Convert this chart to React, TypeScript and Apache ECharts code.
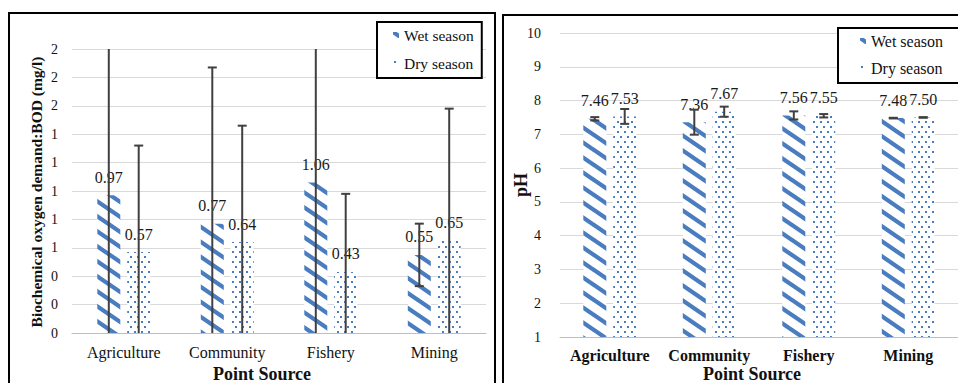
import React, { useEffect, useRef } from "react";
import * as echarts from "echarts";

const categories = ["Agriculture", "Community", "Fishery", "Mining"];
const seriesNames = ["Wet season", "Dry season"];

// Left chart: BOD (mg/l)
const bodWet = [0.97, 0.77, 1.06, 0.55];
const bodDry = [0.57, 0.64, 0.43, 0.65];
const bodWetErr = [1.1, 1.1, 1.12, 0.22];
const bodDryErr = [0.75, 0.82, 0.55, 0.93];
const bodTickLabels = ["0", "0", "0", "1", "1", "1", "1", "1", "2", "2", "2"];

// Right chart: pH
const phWet = [7.46, 7.36, 7.56, 7.48];
const phDry = [7.53, 7.67, 7.55, 7.5];
const phWetErr = [0.05, 0.37, 0.12, 0.01];
const phDryErr = [0.22, 0.15, 0.05, 0.01];
const phTickLabels = ["1", "2", "3", "4", "5", "6", "7", "8", "9", "10"];

const SERIF = "Liberation Serif";
const BLUE = "#4a7cc0";
const BAR_W = 23;
const BAR_GAP = 0.3;

function stripePattern() {
  const W = 22, H = 15;
  const c = document.createElement("canvas");
  c.width = W; c.height = H;
  const ctx = c.getContext("2d")!;
  ctx.fillStyle = "#ffffff";
  ctx.fillRect(0, 0, W, H);
  ctx.strokeStyle = BLUE;
  ctx.lineWidth = 4.2;
  ctx.beginPath();
  for (const dx of [-W, 0, W]) {
    for (const dy of [-H, 0, H]) {
      ctx.moveTo(dx, dy);
      ctx.lineTo(dx + W, dy + H);
    }
  }
  ctx.stroke();
  return { image: c.toDataURL(), repeat: "repeat", imageWidth: W, imageHeight: H };
}

function dotPattern() {
  const W = 7, H = 10;
  const c = document.createElement("canvas");
  c.width = W; c.height = H;
  const ctx = c.getContext("2d")!;
  ctx.fillStyle = "#ffffff";
  ctx.fillRect(0, 0, W, H);
  ctx.fillStyle = BLUE;
  ctx.fillRect(1, 1, 2, 2);
  ctx.fillRect(4, 6, 2, 2);
  return { image: c.toDataURL(), repeat: "repeat", imageWidth: W, imageHeight: H };
}

function errData(vals: number[], errs: number[], lo: number, hi: number) {
  return vals.map((v, i) => {
    const a = v - errs[i];
    const b = v + errs[i];
    return [i, Math.max(lo, a), Math.min(hi, b), a >= lo ? 1 : 0, b <= hi ? 1 : 0];
  });
}

function errSeries(name: string, axis: number, data: number[][], offset: number) {
  return {
    type: "custom",
    name,
    xAxisIndex: axis,
    yAxisIndex: axis,
    z: 5,
    silent: true,
    data,
    renderItem: (params: any, api: any) => {
      const idx = api.value(0);
      const p0 = api.coord([idx, api.value(1)]);
      const p1 = api.coord([idx, api.value(2)]);
      const x = p0[0] + offset;
      const style = { stroke: "#404040", lineWidth: 2 };
      const cap = 4.5;
      const children: any[] = [
        { type: "line", shape: { x1: x, y1: p0[1], x2: x, y2: p1[1] }, style },
      ];
      if (api.value(3)) children.push({ type: "line", shape: { x1: x - cap, y1: p0[1], x2: x + cap, y2: p0[1] }, style });
      if (api.value(4)) children.push({ type: "line", shape: { x1: x - cap, y1: p1[1], x2: x + cap, y2: p1[1] }, style });
      return { type: "group", children };
    },
  };
}

export default function App() {
  const ref = useRef<HTMLDivElement>(null);
  useEffect(() => {
    if (!ref.current) return;
    const chart = echarts.init(ref.current, null, { renderer: "svg" });
    const stripes = stripePattern();
    const dots = dotPattern();
    const off = (BAR_W + BAR_W * BAR_GAP) / 2;
    const labelCfg = {
      show: true,
      position: "top",
      distance: 10,
      fontFamily: SERIF,
      fontSize: 16,
      color: "#1a1a1a",
      formatter: (p: any) => Number(p.value).toFixed(2),
    };
    const barBase = { type: "bar", barWidth: BAR_W, barGap: BAR_GAP * 100 + "%", label: labelCfg };
    const legendBase = {
      orient: "vertical",
      backgroundColor: "#ffffff",
      borderColor: "#000000",
      borderWidth: 2,
      itemWidth: 6,
      itemHeight: 6,
      icon: "rect",
      selectedMode: false,
      data: seriesNames,
    };
    const txt = (text: string, x: number, y: number, size: number, rot = 0) => ({
      type: "text",
      x,
      y,
      rotation: rot,
      style: {
        text,
        fontFamily: SERIF,
        fontSize: size,
        fontWeight: "bold",
        fill: "#111",
        align: "center",
        textAlign: "center",
        verticalAlign: "middle",
        textVerticalAlign: "middle",
      },
    });
    chart.setOption({
      animation: false,
      backgroundColor: "#ffffff",
      textStyle: { fontFamily: SERIF },
      grid: [
        { left: 72, top: 49, width: 414, height: 284 },
        { left: 560, top: 33, width: 412, height: 304 },
      ],
      legend: [
        {
          ...legendBase,
          left: 377,
          top: 22,
          padding: [5, 8, 7, 16],
          itemGap: 12,
          textStyle: { fontFamily: SERIF, fontSize: 15.5, color: "#111" },
        },
        {
          ...legendBase,
          left: 838,
          top: 28,
          padding: [5, 70, 7, 22],
          itemGap: 11,
          textStyle: { fontFamily: SERIF, fontSize: 16, color: "#111" },
        },
      ],
      xAxis: [
        {
          gridIndex: 0,
          type: "category",
          data: categories,
          axisTick: { show: false },
          axisLine: { lineStyle: { color: "#bfbfbf", width: 1 } },
          axisLabel: { interval: 0, fontFamily: SERIF, fontSize: 16, color: "#111", margin: 11 },
        },
        {
          gridIndex: 1,
          type: "category",
          data: categories,
          axisTick: { show: false },
          axisLine: { lineStyle: { color: "#bfbfbf", width: 1 } },
          axisLabel: { interval: 0, fontFamily: SERIF, fontSize: 16, fontWeight: "bold", color: "#111", margin: 10 },
        },
      ],
      yAxis: [
        {
          gridIndex: 0,
          type: "value",
          min: 0,
          max: 2,
          interval: 0.2,
          axisLine: { show: false },
          axisTick: { show: false },
          splitLine: { lineStyle: { color: "#d9d9d9", width: 1 } },
          axisLabel: {
            fontFamily: SERIF,
            fontSize: 14,
            color: "#111",
            margin: 14,
            formatter: (_v: number, i: number) => bodTickLabels[i],
          },
        },
        {
          gridIndex: 1,
          type: "value",
          min: 1,
          max: 10,
          interval: 1,
          axisLine: { show: false },
          axisTick: { show: false },
          splitLine: { lineStyle: { color: "#d9d9d9", width: 1 } },
          axisLabel: {
            fontFamily: SERIF,
            fontSize: 14,
            color: "#111",
            margin: 19,
            formatter: (_v: number, i: number) => phTickLabels[i],
          },
        },
      ],
      series: [
        { ...barBase, name: seriesNames[0], xAxisIndex: 0, yAxisIndex: 0, data: bodWet, itemStyle: { color: stripes } },
        { ...barBase, name: seriesNames[1], xAxisIndex: 0, yAxisIndex: 0, data: bodDry, itemStyle: { color: dots } },
        { ...barBase, name: seriesNames[0], xAxisIndex: 1, yAxisIndex: 1, data: phWet, itemStyle: { color: stripes } },
        { ...barBase, name: seriesNames[1], xAxisIndex: 1, yAxisIndex: 1, data: phDry, itemStyle: { color: dots } },
        errSeries("errBodWet", 0, errData(bodWet, bodWetErr, 0, 2), -off),
        errSeries("errBodDry", 0, errData(bodDry, bodDryErr, 0, 2), off),
        errSeries("errPhWet", 1, errData(phWet, phWetErr, 1, 10), -off),
        errSeries("errPhDry", 1, errData(phDry, phDryErr, 1, 10), off),
      ],
      graphic: [
        {
          type: "rect",
          z: 100,
          shape: { x: 9, y: 13, width: 486, height: 420 },
          style: { fill: "none", stroke: "#000", lineWidth: 2 },
        },
        {
          type: "rect",
          z: 100,
          shape: { x: 503, y: 15, width: 500, height: 420 },
          style: { fill: "none", stroke: "#000", lineWidth: 2 },
        },
        txt("Point Source", 262, 374, 18),
        txt("Point Source", 752, 374, 18),
        txt("Biochemical oxygen demand:BOD (mg/l)", 36, 192, 15.5, Math.PI / 2),
        txt("pH", 521, 185, 18, Math.PI / 2),
      ],
    });
    return () => chart.dispose();
  }, []);
  return (
    <div
      ref={ref}
      style={{ position: "absolute", left: 0, top: 0, width: 958, height: 383 }}
    />
  );
}
